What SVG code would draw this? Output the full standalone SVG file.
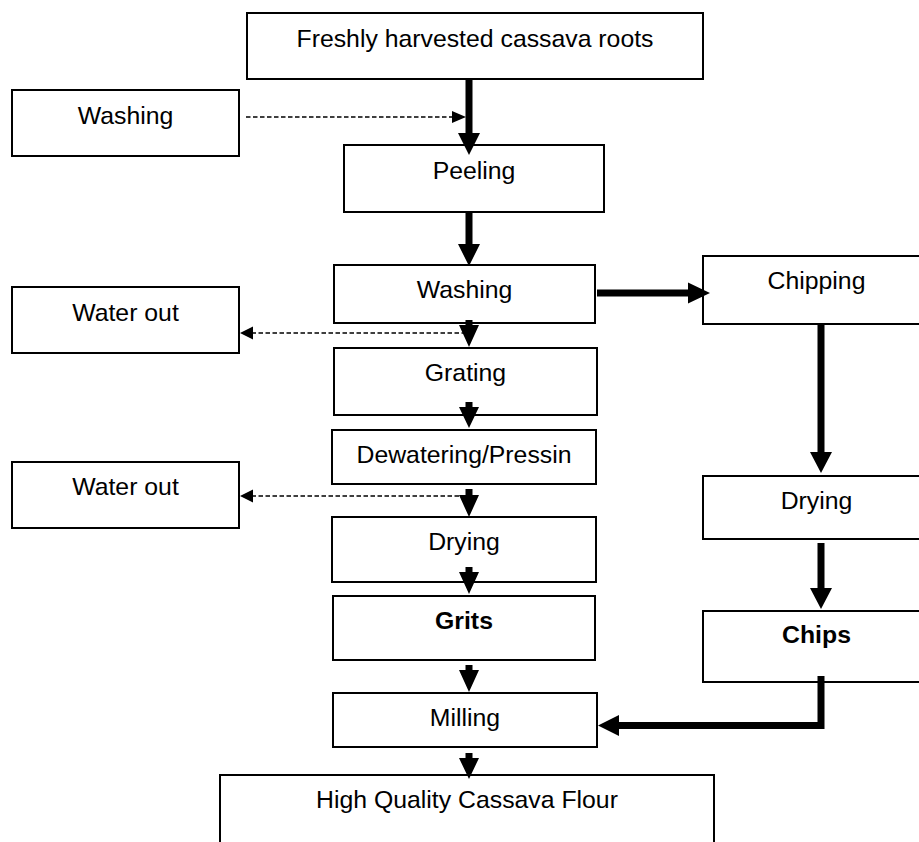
<svg xmlns="http://www.w3.org/2000/svg" width="919" height="842" viewBox="0 0 919 842">
<defs>
<style>
.box{fill:#fff;stroke:#000;stroke-width:2}
.t{font-family:"Liberation Sans",Arial,sans-serif;font-size:24.8px;fill:#000;text-anchor:middle}
.b{font-weight:bold}
.thick{fill:#000;stroke:none}
.dash{fill:none;stroke:#000;stroke-width:1.6;stroke-dasharray:4.5,2.5}
.dh{fill:#000}
</style>
</defs>
<rect width="919" height="842" fill="#fff"/>
<g id="n-roots"><rect class="box" x="247" y="13" width="456" height="66"/><text class="t" x="475" y="47">Freshly harvested cassava roots</text></g>
<g id="n-washing-in"><rect class="box" x="12" y="90" width="227" height="66"/><text class="t" x="125.5" y="124">Washing</text></g>
<g id="n-peeling"><rect class="box" x="344" y="145" width="260" height="67"/><text class="t" x="474" y="179">Peeling</text></g>
<g id="n-washing"><rect class="box" x="334" y="265" width="261" height="58"/><text class="t" x="464.5" y="298">Washing</text></g>
<g id="n-waterout1"><rect class="box" x="12" y="287" width="227" height="66"/><text class="t" x="125.5" y="321">Water out</text></g>
<g id="n-grating"><rect class="box" x="334" y="348" width="263" height="67"/><text class="t" x="465.5" y="381">Grating</text></g>
<g id="n-dewatering"><rect class="box" x="332" y="430" width="264" height="54"/><text class="t" x="464" y="463">Dewatering/Pressin</text></g>
<g id="n-waterout2"><rect class="box" x="12" y="462" width="227" height="66"/><text class="t" x="125.5" y="495">Water out</text></g>
<g id="n-drying"><rect class="box" x="332" y="517" width="264" height="65"/><text class="t" x="464" y="550">Drying</text></g>
<g id="n-grits"><rect class="box" x="333" y="596" width="262" height="64"/><text class="t b" x="464" y="629">Grits</text></g>
<g id="n-milling"><rect class="box" x="333" y="693" width="264" height="54"/><text class="t" x="465" y="726">Milling</text></g>
<g id="n-flour"><rect class="box" x="220" y="775" width="494" height="80"/><text class="t" x="467" y="808">High Quality Cassava Flour</text></g>
<g id="n-chipping"><rect class="box" x="703" y="256" width="227" height="68"/><text class="t" x="816.5" y="289">Chipping</text></g>
<g id="n-drying2"><rect class="box" x="703" y="476" width="227" height="63"/><text class="t" x="816.5" y="509">Drying</text></g>
<g id="n-chips"><rect class="box" x="703" y="611" width="227" height="71"/><text class="t b" x="816.5" y="643">Chips</text></g>
<g id="connectors">
<line class="dash" x1="246" y1="117" x2="453" y2="117"/>
<polygon class="dh" points="452,111 466,117 452,123"/>
<line class="dash" x1="466" y1="333" x2="252" y2="333"/>
<polygon class="dh" points="253,326.5 240,333 253,339.5"/>
<line class="dash" x1="466" y1="496" x2="252" y2="496"/>
<polygon class="dh" points="253,489.5 240,496 253,502.5"/>
<polygon class="thick" points="465.5,79 472.5,79 472.5,133 480,133 469,155 458,133 465.5,133"/>
<polygon class="thick" points="465.5,212 472.5,212 472.5,244 480,244 469,266 458,244 465.5,244"/>
<polygon class="thick" points="465.5,320 472.5,320 472.5,325 479,325 469,347 459,325 465.5,325"/>
<polygon class="thick" points="465.5,402 472.5,402 472.5,407 479,407 469,428 459,407 465.5,407"/>
<polygon class="thick" points="465.5,489 472.5,489 472.5,495 479,495 469,517 459,495 465.5,495"/>
<polygon class="thick" points="465.5,567 472.5,567 472.5,572 479,572 469,594 459,572 465.5,572"/>
<polygon class="thick" points="465.5,665 472.5,665 472.5,670 479,670 469,692 459,670 465.5,670"/>
<polygon class="thick" points="465.5,753 472.5,753 472.5,758 479,758 469,779 459,758 465.5,758"/>
<polygon class="thick" points="597,289.5 688,289.5 688,282.5 710,293 688,303.5 688,296.5 597,296.5"/>
<polygon class="thick" points="817.5,324 824.5,324 824.5,452 832,452 821,473 810,452 817.5,452"/>
<polygon class="thick" points="817.5,543 824.5,543 824.5,588 832,588 821,609 810,588 817.5,588"/>
<polygon class="thick" points="817.5,676 824.5,676 824.5,729 619,729 619,736 598,725.5 619,715 619,722 817.5,722"/>
</g>
</svg>
